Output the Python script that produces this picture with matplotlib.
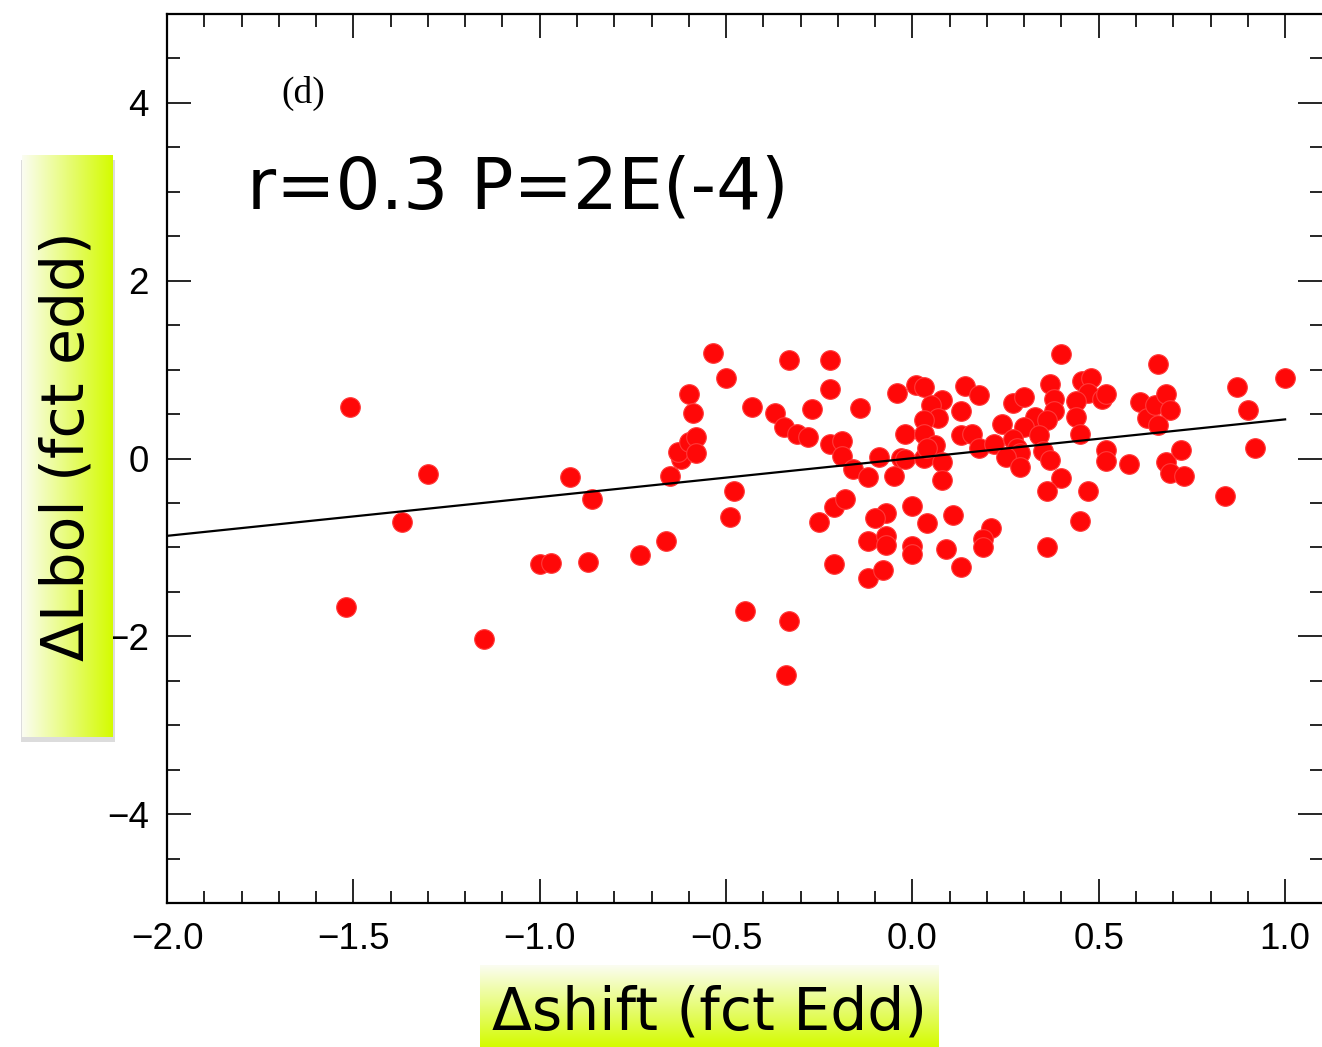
import numpy as np
import matplotlib
matplotlib.use("Agg")
import matplotlib.pyplot as plt
from matplotlib.colors import LinearSegmentedColormap
from matplotlib.patches import Rectangle
from matplotlib.ticker import MultipleLocator

# delta shift (fct Edd)
dshift = [-1.51, -1.52, -1.30, -1.37, -1.15, -0.92, -0.86, -1.00, -0.97, -0.87,
          -0.73, -0.66, -0.65, -0.62, -0.63, -0.60, -0.58, -0.58, -0.60, -0.59,
          -0.535, -0.50, -0.43, -0.37, -0.345, -0.31, -0.28, -0.33, -0.22, -0.22,
          -0.27, -0.22, -0.19, -0.19, -0.48, -0.49, -0.25, -0.21, -0.18, -0.21,
          -0.45, -0.33, -0.34, -0.14, -0.16, -0.12, -0.09, -0.04, 0.01, 0.03,
          0.08, 0.05, 0.07, 0.03, -0.02, 0.03, 0.14, 0.13, 0.13, -0.03,
          -0.02, 0.03, 0.06, 0.08, 0.08, -0.05, 0.16, 0.04, 0.00, -0.07,
          -0.10, 0.04, 0.11, -0.12, -0.07, -0.07, 0.00, 0.00, 0.09, 0.13,
          -0.12, -0.08, 0.18, 0.27, 0.30, 0.37, 0.38, 0.38, 0.33, 0.36,
          0.24, 0.30, 0.34, 0.18, 0.22, 0.27, 0.28, 0.29, 0.25, 0.29,
          0.35, 0.37, 0.40, 0.36, 0.47, 0.45, 0.36, 0.21, 0.19, 0.19,
          0.40, 0.455, 0.48, 0.47, 0.44, 0.51, 0.52, 0.44, 0.45, 0.52,
          0.52, 0.58, 0.61, 0.63, 0.65, 0.68, 0.69, 0.66, 0.66, 0.68,
          0.69, 0.72, 0.73, 0.87, 0.90, 0.92, 0.84, 1.00]
# delta Lbol (fct edd)
dlbol = [0.58, -1.67, -0.17, -0.71, -2.03, -0.21, -0.46, -1.19, -1.18, -1.16,
         -1.09, -0.93, -0.20, 0.00, 0.07, 0.19, 0.24, 0.06, 0.72, 0.51,
         1.19, 0.91, 0.58, 0.51, 0.35, 0.28, 0.24, 1.11, 1.11, 0.78,
         0.56, 0.16, 0.20, 0.03, -0.37, -0.66, -0.71, -0.55, -0.45, -1.19,
         -1.71, -1.83, -2.44, 0.57, -0.12, -0.21, 0.02, 0.74, 0.83, 0.80,
         0.66, 0.60, 0.46, 0.43, 0.28, 0.27, 0.81, 0.53, 0.26, 0.01,
         -0.01, 0.01, 0.15, -0.04, -0.24, -0.20, 0.28, 0.12, -0.53, -0.61,
         -0.67, -0.72, -0.64, -0.93, -0.87, -0.97, -0.98, -1.07, -1.02, -1.22,
         -1.34, -1.25, 0.71, 0.62, 0.69, 0.84, 0.67, 0.53, 0.47, 0.43,
         0.39, 0.35, 0.26, 0.12, 0.16, 0.22, 0.12, 0.06, 0.02, -0.10,
         0.08, -0.02, -0.22, -0.36, -0.37, -0.70, -1.00, -0.78, -0.91, -1.00,
         1.18, 0.87, 0.90, 0.74, 0.65, 0.67, 0.73, 0.47, 0.27, 0.10,
         -0.03, -0.06, 0.64, 0.46, 0.60, 0.73, 0.55, 0.38, 1.06, -0.04,
         -0.16, 0.10, -0.20, 0.80, 0.54, 0.12, -0.42, 0.90]

# regression line end points
fit_x = [-2.0, 1.0]
fit_y = [-0.87, 0.44]

stat_text = "r=0.3 P=2E(-4)"
panel = "(d)"
xlabel = "\u0394shift (fct Edd)"
ylabel = "\u0394Lbol (fct edd)"

W, H = 1322, 1047
fig = plt.figure(figsize=(W / 100, H / 100), dpi=100)
ax = fig.add_axes([167 / W, 1 - 903 / H, 1 - 167 / W, (903 - 14) / H])

ax.scatter(dshift, dlbol, s=200, facecolor="#ff0808", edgecolor="#ff3a3a",
           linewidth=0.8, zorder=3)
ax.plot(fit_x, fit_y, color="black", lw=1.6, zorder=4)

ax.set_xlim(-2.0, 1.099)
ax.set_ylim(-5, 5)
ax.xaxis.set_major_locator(MultipleLocator(0.5))
ax.xaxis.set_minor_locator(MultipleLocator(0.1))
ax.yaxis.set_major_locator(MultipleLocator(2))
ax.yaxis.set_minor_locator(MultipleLocator(0.5))
ax.xaxis.set_major_formatter(plt.FuncFormatter(lambda v, p: f"{v:.1f}".replace("-", "\u2212")))
ax.tick_params(which="both", direction="in", top=True, right=True, width=1.2)
ax.tick_params(which="major", length=17)
ax.tick_params(which="minor", length=9)
ax.tick_params(axis="x", pad=14, labelsize=26.5)
ax.tick_params(axis="y", pad=13, labelsize=26.5)
for lab in ax.get_xticklabels() + ax.get_yticklabels():
    lab.set_family("Liberation Sans")
for sp in ax.spines.values():
    sp.set_linewidth(1.6)
ax.spines["right"].set_visible(False)  # cut off at the picture edge

ax.text(-1.635, 4.11, panel, family="Liberation Serif", fontsize=27,
        ha="center", va="center")
ax.text(-1.785, 3.03, stat_text, family="DejaVu Sans", fontsize=51,
        ha="left", va="center")

green = LinearSegmentedColormap.from_list("g", ["#fbfdf2", "#d4fb00"])
grad = np.linspace(0, 1, 256)

# soft shadow under the y label box
fig.patches.append(Rectangle((21 / W, 1 - 742 / H), 94 / W, (742 - 160) / H,
                             transform=fig.transFigure, facecolor="#dcdcdc",
                             edgecolor="none", zorder=-5))
bx = fig.add_axes([22 / W, 1 - 737 / H, 91 / W, (737 - 155) / H], zorder=2)
bx.imshow(grad[None, :], aspect="auto", cmap=green, extent=[0, 1, 0, 1])
bx.axis("off")
bx.text(0.5, 0.5, ylabel, rotation=90, ha="center", va="center",
        family="DejaVu Sans", fontsize=42, transform=bx.transAxes)

# x label box (vertical gradient)
cx = fig.add_axes([480 / W, 0, 458 / W, (1047 - 965) / H], zorder=2)
cx.imshow(grad[:, None], aspect="auto", cmap=green, extent=[0, 1, 0, 1],
          origin="upper")
cx.axis("off")
cx.text(0.5, 0.42, xlabel, ha="center", va="center", family="DejaVu Sans",
        fontsize=42, transform=cx.transAxes)

fig.savefig("out.png", dpi=100)
